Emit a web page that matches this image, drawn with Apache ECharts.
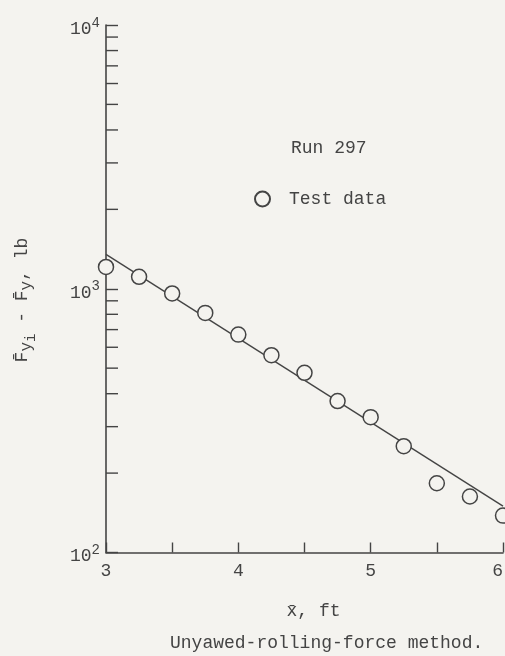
<!DOCTYPE html>
<html>
<head>
<meta charset="utf-8">
<script src="https://cdn.jsdelivr.net/npm/echarts@6/dist/echarts.min.js"></script>
<style>
html,body{margin:0;padding:0;background:#f4f3ef;}
#c{width:505px;height:656px;}
</style>
</head>
<body>
<div id="c"></div>
<script>
// ---- data ----
var xValues = [3, 3.25, 3.5, 3.75, 4, 4.25, 4.5, 4.75, 5, 5.25, 5.5, 5.75, 6];
var testData = [1210, 1110, 960, 810, 670, 560, 480, 375, 326, 253, 183, 163, 138];
var fitX = [3, 6];
var fitY = [1350, 150];
var xTickLabels = [3, 4, 5, 6];
var yMajorTicks = [100, 1000, 10000];
var yMinorTicks = [200, 300, 400, 500, 600, 700, 800, 900, 2000, 3000, 4000, 5000, 6000, 7000, 8000, 9000];

var ink = '#444';
var font = '"Liberation Mono", "DejaVu Sans Mono", monospace';

var chart = echarts.init(document.getElementById('c'), null, {renderer: 'canvas'});
chart.setOption({
  backgroundColor: '#f4f3ef',
  animation: false,
  textStyle: {fontFamily: font, color: ink},
  title: {
    text: 'Run 297',
    left: 286, top: 134,
    textStyle: {fontFamily: font, fontSize: 18, fontWeight: 'normal', color: ink}
  },
  legend: {
    data: ['Test data'],
    left: 249, top: 185,
    itemWidth: 15, itemHeight: 15, itemGap: 10,
    icon: 'circle',
    textStyle: {fontFamily: font, fontSize: 18, color: ink, padding: [0, 0, 0, 14]}
  },
  grid: {left: 106, right: 2, top: 25, bottom: 103.5, containLabel: false, outerBoundsMode: 'none'},
  xAxis: {
    type: 'value', min: 3, max: 6, interval: 0.5,
    axisLine: {show: true, lineStyle: {color: ink, width: 1.6}},
    axisTick: {show: true, inside: true, length: 10, lineStyle: {color: ink, width: 1.4}},
    splitLine: {show: false},
    axisLabel: {
      margin: 10, fontFamily: font, fontSize: 18, color: ink,
      alignMaxLabel: 'right',
      formatter: function (v) { return xTickLabels.indexOf(v) >= 0 ? String(v) : ''; }
    },
    name: 'x\u0304, ft', nameLocation: 'middle', nameGap: 50,
    nameTextStyle: {fontFamily: font, fontSize: 18, color: ink, padding: [0, 0, 0, 18]}
  },
  yAxis: {
    type: 'log', logBase: 10, min: 100, max: 10000,
    axisLine: {show: true, lineStyle: {color: ink, width: 1.6}},
    axisTick: {show: true, inside: true, length: 12, lineStyle: {color: ink, width: 1.4}},
    splitLine: {show: false},
    axisLabel: {
      margin: 6, color: ink,
      formatter: function (v) {
        return '{b|10}{s|' + Math.round(Math.log10(v)) + '}';
      },
      rich: {
        b: {fontFamily: font, fontSize: 18, color: ink, padding: [8, 0, 0, 0]},
        s: {fontFamily: font, fontSize: 14, color: ink, padding: [0, 0, 4, 0]}
      }
    }
  },
  graphic: [
    {
      type: 'text',
      x: 22, y: 300,
      rotation: Math.PI / 2,
      style: {
        text: '{n|F\u0304}{sub|y}{ss|i}{n| - F\u0304}{sub|y}{n|, lb}',
        align: 'center', verticalAlign: 'middle',
        rich: {
          n: {fontFamily: font, fontSize: 18, fill: ink},
          sub: {fontFamily: font, fontSize: 16, fill: ink, padding: [10, 0, 0, 0]},
          ss: {fontFamily: font, fontSize: 14, fill: ink, padding: [18, 0, 0, 0]}
        }
      }
    },
    {
      type: 'text',
      left: 170, top: 634,
      style: {
        text: 'Unyawed-rolling-force method.',
        fontFamily: font, fontSize: 18, fill: ink
      }
    }
  ],
  series: [
    {
      name: 'fit',
      type: 'line',
      data: fitX.map(function (x, i) { return [x, fitY[i]]; }),
      symbol: 'none',
      lineStyle: {color: ink, width: 1.4},
      silent: true,
      z: 2
    },
    {
      name: 'Test data',
      type: 'scatter',
      data: xValues.map(function (x, i) { return [x, testData[i]]; }),
      symbol: 'circle',
      symbolSize: 15,
      itemStyle: {color: '#f4f3ef', borderColor: ink, borderWidth: 1.5, opacity: 1},
      z: 3
    },
    {
      name: 'minorTicks',
      type: 'custom',
      silent: true,
      data: yMinorTicks.map(function (v) { return [3, v]; }),
      renderItem: function (params, api) {
        var p = api.coord([api.value(0), api.value(1)]);
        return {
          type: 'line',
          shape: {x1: p[0], y1: p[1], x2: p[0] + 12, y2: p[1]},
          style: {stroke: ink, lineWidth: 1.4}
        };
      },
      z: 1
    }
  ]
});
</script>
</body>
</html>
